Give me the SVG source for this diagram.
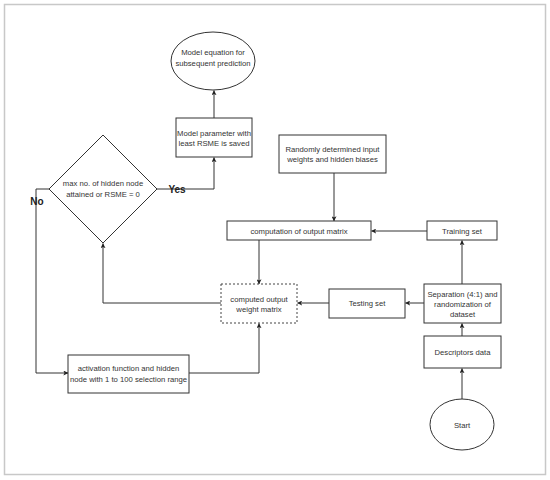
<svg xmlns="http://www.w3.org/2000/svg" width="550" height="480" viewBox="0 0 550 480">
<defs>
<marker id="ah" viewBox="0 0 8 8" refX="7.5" refY="4" markerWidth="5" markerHeight="5" orient="auto" markerUnits="userSpaceOnUse">
<path d="M0,0 L8,4 L0,8 L2,4 Z" fill="#222"/>
</marker>
<style>
.n{fill:#fff;stroke:#333;stroke-width:1}
.d{fill:#fff;stroke:#444;stroke-width:1;stroke-dasharray:2 2}
.t{font-family:"Liberation Sans",Arial,sans-serif;font-size:7.7px;fill:#333;text-anchor:middle}
.b{font-family:"Liberation Sans",Arial,sans-serif;font-size:10px;font-weight:bold;fill:#222;text-anchor:middle}
.c{fill:none;stroke:#333;stroke-width:1;marker-end:url(#ah)}
.c0{fill:none;stroke:#333;stroke-width:1}
</style>
</defs>
<rect x="0" y="0" width="550" height="480" fill="#fff"/>
<rect x="4.5" y="4.5" width="541" height="470" fill="none" stroke="#c8c8c8" stroke-width="1.5"/>

<g id="connectors">
<path class="c" d="M214,118 L214,90.5"/>
<path class="c" d="M157,189 L214,189 L214,157.5"/>
<path class="c" d="M49,189 L36,189 L36,373 L68,373"/>
<path class="c" d="M189,373 L259,373 L259,323.5"/>
<path class="c" d="M221,303 L103,303 L103,243.5"/>
<path class="c" d="M334,173 L334,221"/>
<path class="c" d="M259,240 L259,284"/>
<path class="c" d="M427,231 L371.5,231"/>
<path class="c" d="M462,284 L462,240.5"/>
<path class="c" d="M424,303 L405.5,303"/>
<path class="c" d="M329,303 L297.5,303"/>
<path class="c" d="M462,336 L462,323.5"/>
<path class="c" d="M462,399 L462,368.5"/>
</g>

<g id="model-equation">
<ellipse class="n" cx="213" cy="61" rx="42" ry="29"/>
<text class="t" x="213" y="55">Model equation for</text>
<text class="t" x="213" y="66">subsequent prediction</text>
</g>

<g id="model-parameter">
<rect class="n" x="176" y="118" width="76" height="39"/>
<text class="t" x="214" y="136">Model parameter with</text>
<text class="t" x="214" y="146">least RSME is saved</text>
</g>

<g id="decision">
<polygon class="n" points="103,135 157,189 103,243 49,189"/>
<text class="t" x="103" y="186">max no. of hidden node</text>
<text class="t" x="103" y="197">attained or RSME = 0</text>
</g>

<g id="yes-label"><text class="b" x="177" y="193">Yes</text></g>
<g id="no-label"><text class="b" x="37" y="205">No</text></g>

<g id="random-weights">
<rect class="n" x="279" y="135" width="107" height="38"/>
<text class="t" x="332.5" y="152">Randomly determined input</text>
<text class="t" x="332.5" y="162">weights and hidden biases</text>
</g>

<g id="computation">
<rect class="n" x="227" y="221" width="144" height="19"/>
<text class="t" x="299" y="233.5">computation of output matrix</text>
</g>

<g id="training-set">
<rect class="n" x="427" y="221" width="70" height="19"/>
<text class="t" x="462" y="233.5">Training set</text>
</g>

<g id="computed-output">
<rect class="d" x="221" y="284" width="76" height="39"/>
<text class="t" x="259" y="302">computed output</text>
<text class="t" x="259" y="312">weight matrix</text>
</g>

<g id="testing-set">
<rect class="n" x="329" y="289" width="76" height="29"/>
<text class="t" x="367" y="306">Testing set</text>
</g>

<g id="separation">
<rect class="n" x="424" y="284" width="77" height="39"/>
<text class="t" x="462.5" y="297">Separation (4:1) and</text>
<text class="t" x="462.5" y="307">randomization of</text>
<text class="t" x="462.5" y="317">dataset</text>
</g>

<g id="descriptors">
<rect class="n" x="424" y="336" width="77" height="32"/>
<text class="t" x="462.5" y="354.5">Descriptors data</text>
</g>

<g id="activation">
<rect class="n" x="68" y="355" width="121" height="38"/>
<text class="t" x="128.5" y="371">activation function and hidden</text>
<text class="t" x="128.5" y="382">node with 1 to 100 selection range</text>
</g>

<g id="start">
<ellipse class="n" cx="462" cy="424.5" rx="32" ry="25.5"/>
<text class="t" x="462" y="427.5">Start</text>
</g>
</svg>
